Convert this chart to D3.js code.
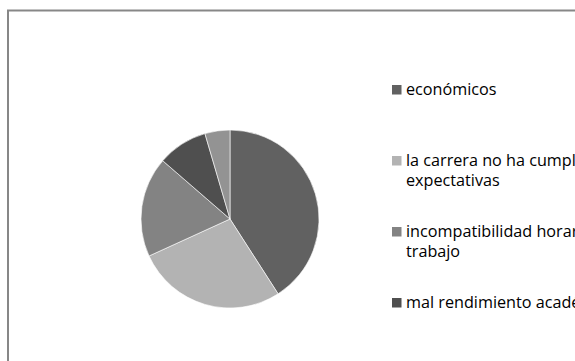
<!DOCTYPE html>
<html><head><meta charset="utf-8">
<script src="https://cdn.jsdelivr.net/npm/d3@7"></script>
<style>html,body{margin:0;padding:0;background:#fff;overflow:hidden}</style>
</head><body>
<svg id="chart" width="575" height="361"></svg>
<script>
const categories = [
  "económicos",
  "la carrera no ha cumplido mis\nexpectativas",
  "incompatibilidad horaria con el\ntrabajo",
  "mal rendimiento académico",
  "otros"
];
const values = [9, 6, 4, 2, 1];
const colors = ["#616161", "#b3b3b3", "#838383", "#4f4f4f", "#939393"];

const svg = d3.select("#chart");
svg.append("rect").attr("x", 8).attr("y", 10.5).attr("width", 640).attr("height", 420)
  .attr("fill", "#fff").attr("stroke", "#878787").attr("stroke-width", 2);

const cx = 230, cy = 219, r = 89;
const pie = d3.pie().sort(null).value(d => d)(values);
const arc = d3.arc().innerRadius(0).outerRadius(r);
const g = svg.append("g").attr("transform", `translate(${cx},${cy})`);
g.selectAll("path").data(pie).join("path")
  .attr("d", arc).attr("fill", (d, i) => colors[i])
  .attr("stroke", "#fff").attr("stroke-width", 0.6);

const color = d3.scaleOrdinal().domain(categories).range(colors);
const ly = d3.scaleLinear().domain([0, 1]).range([95, 166]);
const leg = svg.append("g").style("font-family", "'Open Sans', sans-serif").style("font-size", "16.2px").attr("fill", "#000");
categories.forEach((c, i) => {
  const y = ly(i);
  leg.append("rect").attr("x", 392).attr("y", y - 10).attr("width", 9.5).attr("height", 9.5).attr("fill", color(c));
  c.split("\n").forEach((line, j) => {
    leg.append("text").attr("x", 406).attr("y", y + j * 20).text(line);
  });
});
</script>
</body></html>
